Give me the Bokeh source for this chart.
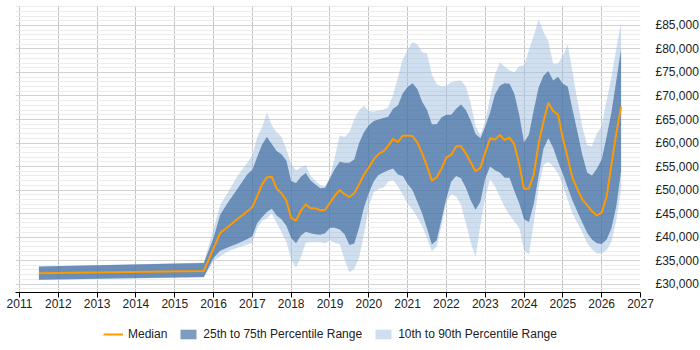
from bokeh.plotting import figure
from bokeh.layouts import column
from bokeh.models import (Range1d, FixedTicker, SingleIntervalTicker, Legend,
                          LegendItem, ColumnDataSource)
from bokeh.embed import file_html
from bokeh.resources import INLINE

# ---- data ----
years = [2011.5, 2015.75, 2016.0, 2016.17, 2016.375, 2016.625, 2016.875,
         2017.0, 2017.125, 2017.25, 2017.375, 2017.5, 2017.625, 2017.75, 2017.875,
         2018.0, 2018.125, 2018.25, 2018.375, 2018.5, 2018.625, 2018.75, 2018.875,
         2019.0, 2019.125, 2019.25, 2019.375, 2019.5, 2019.625, 2019.75, 2019.875,
         2020.0, 2020.125, 2020.25, 2020.375, 2020.5, 2020.625, 2020.75, 2020.875,
         2021.0, 2021.125, 2021.25, 2021.375, 2021.5, 2021.625, 2021.75, 2021.875,
         2022.0, 2022.125, 2022.25, 2022.375, 2022.5, 2022.625, 2022.75, 2022.875,
         2023.0, 2023.125, 2023.25, 2023.375, 2023.5, 2023.625, 2023.75, 2023.875,
         2024.0, 2024.125, 2024.25, 2024.375, 2024.5, 2024.625, 2024.75, 2024.875,
         2025.0, 2025.125, 2025.25, 2025.375, 2025.5, 2025.625, 2025.75, 2025.875,
         2026.0, 2026.125, 2026.25, 2026.375, 2026.5]

median = [32300, 32800, 37600, 40860, 42200, 43900, 45500,
          46400, 48700, 51200, 52700, 52800, 50300, 49300, 47800,
          44000, 43500, 45600, 46950, 46100, 46100, 45700, 45800,
          47300, 48800, 50000, 49100, 48500, 49300, 51200, 53300,
          54800, 56500, 57700, 58200, 59400, 60870, 60200, 61600,
          61570, 61500, 60100, 57800, 55000, 52000, 52700, 54600,
          56960, 57500, 59300, 59300, 57800, 55900, 54000, 54700,
          58000, 61000, 60700, 61700, 60600, 61200, 59700, 55500,
          50200, 50300, 53300, 59900, 64500, 68500, 66800, 66000,
          61000, 56800, 52500, 50200, 48000, 46800, 45500, 44600,
          45200, 48500, 55300, 62000, 67750]

p75 = [33750, 34500, 39800, 44750, 47400, 50400, 53400,
       54300, 57000, 59700, 61300, 59800, 58300, 57600, 56300,
       51900, 51500, 52800, 53600, 52000, 51200, 50400, 50500,
       52500, 54500, 56000, 55800, 55800, 56500, 60000, 62300,
       63800, 64700, 65000, 65300, 65600, 67300, 68000, 70600,
       71900, 72700, 71500, 68800, 67000, 64000, 64000, 65500,
       66000, 66000, 67300, 68200, 67000, 64800, 61900, 61000,
       63500, 66500, 70300, 72200, 72700, 72600, 70500, 66000,
       60100, 61800, 67000, 71800, 74300, 75300, 73300, 74100,
       72600, 72000, 67100, 62400, 57500, 53700, 53100, 54500,
       56500, 61300, 66500, 73200, 80000]

p90 = [33750, 34600, 41700, 46800, 49600, 53100, 55900,
       57400, 61200, 63350, 66500, 63800, 62300, 61300, 58700,
       55500, 54200, 54800, 55300, 53050, 52000, 51000, 50800,
       52700, 57000, 61600, 61300, 62300, 65000, 67000, 67900,
       66800, 66700, 66900, 67100, 67600, 70200, 73900, 77800,
       79800, 81500, 81000, 79300, 79000, 74500, 72500, 72000,
       72200, 72930, 73200, 73300, 72000, 68500, 63500, 61700,
       64500, 69800, 74500, 77100, 76300, 75500, 75000, 76400,
       76500, 79800, 82800, 86300, 83600, 81700, 76830, 76900,
       78500, 81000, 75000, 69000, 63500, 59600, 59300, 62000,
       63500, 69000, 74000, 80000, 85700]

p25 = [30900, 31500, 35600, 37090, 37850, 38600, 39600,
       40200, 43000, 44200, 45300, 46000, 44600, 43800, 42400,
       39800, 38700, 40300, 41100, 40800, 40600, 40500, 40800,
       42000, 42000, 41600, 40600, 38300, 38600, 42000, 46300,
       49300, 51800, 53200, 53700, 54200, 54600, 53300, 53000,
       51300, 50000, 47500, 45000, 41800, 38400, 39300, 43800,
       48300, 51800, 53000, 52500, 50500, 47800, 45800, 47500,
       52500, 55000, 54200, 53700, 52600, 52600, 49800, 47200,
       43800, 43200, 47000, 53000, 58800, 61000, 59000, 56000,
       53400, 50500, 47700, 45400, 43100, 40900, 39500, 38700,
       38500, 39400, 41800, 46500, 54000]

p10 = [30900, 31400, 34900, 35900, 37000, 37700, 38400,
       38800, 42000, 43400, 44000, 45000, 43000, 41000, 39000,
       35200, 33500, 35700, 38800, 38900, 38900, 38900, 38700,
       39300, 38800, 38500, 35200, 32500, 33200, 35700, 40600,
       46500, 49500, 50200, 50500, 51800, 52100, 50800, 49000,
       47100, 45800, 44200, 42300, 39800, 37000, 38000, 42500,
       47500, 49100, 48600, 46800, 43000, 38900, 35800, 42500,
       48500, 52300, 50800, 48600, 46400, 44700, 43300, 42000,
       37200, 36300, 43000, 50500, 55300, 56000, 55000, 53500,
       51000, 47800, 45000, 43000, 41000, 38700, 37400, 36500,
       36500, 37200, 39000, 43500, 50000]

x_ticks = list(range(2011, 2028))
x_labels = [str(t) for t in x_ticks]
y_ticks = list(range(30000, 90000, 5000))
y_labels = ["£{:,}".format(t) for t in y_ticks]

series_names = ["Median", "25th to 75th Percentile Range", "10th to 90th Percentile Range"]

FONT = "Liberation Sans"
MED_COLOR, DARK_COLOR, LIGHT_COLOR = "#ff9900", "#285a93", "#9fbfdf"

src = ColumnDataSource(dict(x=years, med=median, q1=p25, q3=p75, lo=p10, hi=p90))

p = figure(frame_width=625, frame_height=287,
           x_range=Range1d(2010.897, 2027.0),
           y_range=Range1d(28200, 89250),
           y_axis_location="right",
           output_backend="svg", toolbar_location=None,
           min_border_left=15, min_border_right=60,
           min_border_top=5, min_border_bottom=28)
p.outline_line_color = None
p.background_fill_color = "white"
p.border_fill_color = "white"

p.varea(x="x", y1="lo", y2="hi", source=src, fill_color=LIGHT_COLOR, fill_alpha=0.5)
p.varea(x="x", y1="q1", y2="q3", source=src, fill_color=DARK_COLOR, fill_alpha=0.6)
p.line(x="x", y="med", source=src, line_color=MED_COLOR, line_width=2)

# x axis
p.xaxis.ticker = FixedTicker(ticks=x_ticks)
p.xaxis.major_label_overrides = {float(t): l for t, l in zip(x_ticks, x_labels)}
p.xaxis.axis_line_color = "#000000"
p.xaxis.major_tick_line_color = "#000000"
p.xaxis.major_tick_out = 5
p.xaxis.major_tick_in = 0
p.xaxis.minor_tick_line_color = None
p.xaxis.major_label_standoff = 1
p.xaxis.major_label_text_font = FONT
p.xaxis.major_label_text_font_size = "12px"
p.xaxis.major_label_text_color = "#222222"

# y axis
p.yaxis.ticker = SingleIntervalTicker(interval=5000, num_minor_ticks=5)
p.yaxis.major_label_overrides = {float(t): l for t, l in zip(y_ticks, y_labels)}
p.yaxis.axis_line_color = None
p.yaxis.major_tick_line_color = None
p.yaxis.minor_tick_line_color = None
p.yaxis.major_tick_out = 0
p.yaxis.major_tick_in = 0
p.yaxis.major_label_standoff = 11
p.yaxis.major_label_text_font = FONT
p.yaxis.major_label_text_font_size = "12px"
p.yaxis.major_label_text_color = "#222222"

# grids
p.xgrid.grid_line_color = "#c4c4c4"
p.ygrid.grid_line_color = "#d2d2d2"
p.ygrid.minor_grid_line_color = "#ececec"

# ---- legend strip below the chart (its ranges keep the series out of view) ----
lg = figure(width=700, height=30, x_range=Range1d(0, 1), y_range=Range1d(0, 1),
            x_axis_type=None, y_axis_type=None,
            output_backend="svg", toolbar_location=None, min_border=0)
lg.outline_line_color = None
lg.background_fill_color = "white"
lg.border_fill_color = "white"
d_med = lg.line(x="x", y="med", source=src, line_color=MED_COLOR, line_width=2)
d_dark = lg.varea(x="x", y1="q1", y2="q3", source=src, fill_color=DARK_COLOR, fill_alpha=0.6)
d_light = lg.varea(x="x", y1="lo", y2="hi", source=src, fill_color=LIGHT_COLOR, fill_alpha=0.5)

legend = Legend(items=[LegendItem(label=series_names[0], renderers=[d_med]),
                       LegendItem(label=series_names[1], renderers=[d_dark]),
                       LegendItem(label=series_names[2], renderers=[d_light])],
                orientation="horizontal", location=(88, 9),
                border_line_color=None, background_fill_alpha=0,
                label_text_font=FONT, label_text_font_size="12px",
                label_text_color="#222222",
                glyph_width=20, glyph_height=12, label_standoff=5,
                spacing=11, padding=0, margin=0)
lg.add_layout(legend, "center")

layout = column(p, lg, spacing=0)

open("out.html", "w").write(file_html(layout, INLINE))
